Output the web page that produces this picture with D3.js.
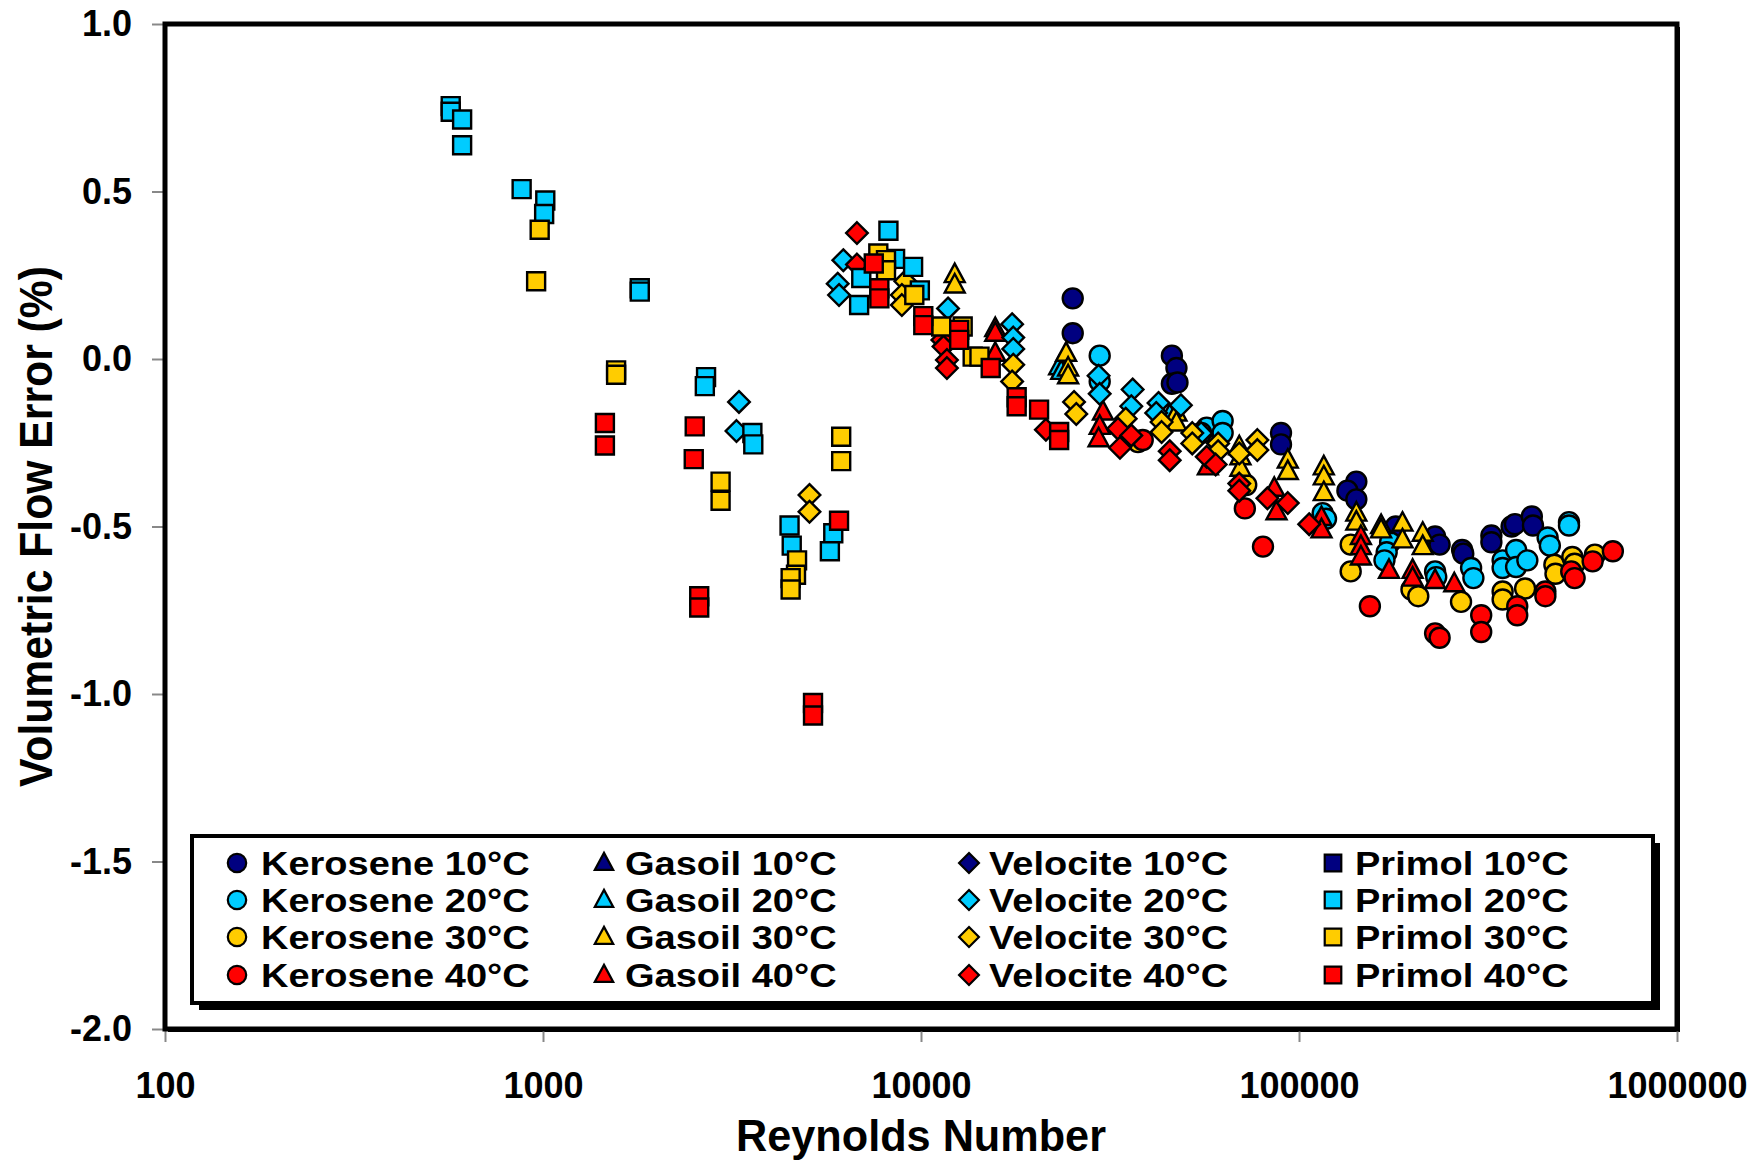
<!DOCTYPE html>
<html><head><meta charset="utf-8">
<script src="https://cdn.jsdelivr.net/npm/d3@7"></script>
<style>
body{margin:0;background:#fff}
svg{display:block}
text{font-family:"Liberation Sans",Arial,sans-serif;font-weight:bold;fill:#000}
</style>
</head><body>
<svg id="chart" width="1764" height="1161"></svg>
<script>
// ---------------- data ----------------
const xTicks = [100, 1000, 10000, 100000, 1000000];
const yTicks = [-2.0, -1.5, -1.0, -0.5, 0.0, 0.5, 1.0];
const fluids = ["Kerosene", "Gasoil", "Velocite", "Primol"];
const temps = ["10°C", "20°C", "30°C", "40°C"];
const tempColors = ["#000080", "#00CCFF", "#FFCC00", "#FF0000"];
const fluidShapes = ["circle", "triangle", "diamond", "square"];

// [Reynolds number, volumetric flow error %]
const kerosene10 = [[25200,0.181],[25200,0.077],[46100,0.010],[47400,-0.027],[46100,-0.074],[47700,-0.070],[89600,-0.221],[89600,-0.255],[141800,-0.366],[134300,-0.393],[141800,-0.419],[180300,-0.500],[229100,-0.530],[235500,-0.554],[270100,-0.570],[272000,-0.581],[322800,-0.527],[322800,-0.547],[365100,-0.500],[372700,-0.493],[413000,-0.470],[415900,-0.497]];
const kerosene20 = [[29700,0.010],[29700,-0.067],[57000,-0.205],[62800,-0.185],[62800,-0.221],[55100,-0.221],[115500,-0.460],[117900,-0.477],[174200,-0.547],[170600,-0.577],[168300,-0.601],[229100,-0.634],[230700,-0.651],[285300,-0.624],[289300,-0.654],[345700,-0.601],[345700,-0.624],[375300,-0.570],[375300,-0.621],[401900,-0.601],[454700,-0.533],[460900,-0.557],[517900,-0.487],[517900,-0.497]];
const kerosene30 = [[37500,-0.248],[72500,-0.376],[137000,-0.554],[137000,-0.634],[198400,-0.688],[206800,-0.708],[268300,-0.725],[345700,-0.694],[345700,-0.718],[396400,-0.685],[473800,-0.614],[477000,-0.641],[528600,-0.591],[536000,-0.611],[606400,-0.584]];
const kerosene40 = [[38600,-0.242],[71900,-0.446],[80300,-0.560],[154000,-0.738],[229100,-0.819],[235500,-0.832],[303400,-0.765],[303400,-0.815],[377900,-0.738],[377900,-0.765],[448500,-0.694],[448500,-0.708],[525000,-0.634],[536000,-0.654],[598200,-0.604],[676600,-0.574]];

const gasoil10 = [];
const gasoil20 = [[23200,-0.023],[23500,-0.037],[45500,-0.168]];
const gasoil30 = [[12280,0.252],[12280,0.221],[24200,0.017],[24500,-0.027],[24500,-0.050],[47400,-0.161],[47400,-0.191],[69500,-0.262],[70000,-0.292],[70000,-0.326],[93400,-0.302],[93400,-0.336],[116300,-0.322],[116300,-0.352],[116300,-0.399],[141800,-0.460],[141800,-0.487],[164900,-0.497],[164900,-0.510],[187800,-0.490],[187800,-0.540],[212500,-0.520],[212500,-0.560]];
const gasoil40 = [[15720,0.091],[15720,0.077],[15720,0.017],[30300,-0.158],[29700,-0.201],[29500,-0.238],[57400,-0.322],[86000,-0.386],[87200,-0.456],[114700,-0.473],[114700,-0.510],[145800,-0.530],[145800,-0.560],[145800,-0.591],[173000,-0.631],[199800,-0.631],[199800,-0.654],[229100,-0.661],[257500,-0.671]];

const velocite10 = [];
const velocite20 = [[3300,-0.128],[3250,-0.215],[6230,0.295],[6020,0.225],[6070,0.191],[11790,0.151],[17420,0.104],[17540,0.064],[17540,0.030],[29500,-0.050],[29700,-0.104],[36300,-0.091],[36000,-0.141],[42500,-0.131],[41900,-0.161],[48700,-0.138],[55100,-0.221]];
const velocite30 = [[5070,-0.406],[5070,-0.456],[9090,0.232],[8900,0.191],[8900,0.161],[17540,-0.017],[17420,-0.067],[25400,-0.128],[25750,-0.164],[34800,-0.178],[43300,-0.188],[43300,-0.218],[52200,-0.221],[52200,-0.252],[61100,-0.252],[61100,-0.275],[69500,-0.282],[77600,-0.242],[77600,-0.272]];
const velocite40 = [[6770,0.376],[6770,0.282],[11390,0.057],[11470,0.037],[11710,-0.003],[11710,-0.027],[21400,-0.211],[33200,-0.208],[33600,-0.265],[36000,-0.228],[45500,-0.275],[45500,-0.302],[57000,-0.292],[60200,-0.315],[69500,-0.372],[69500,-0.393],[82500,-0.416],[93400,-0.430],[106400,-0.493]];

const primol10 = [];
const primol20 = [[570,0.755],[570,0.738],[611,0.715],[611,0.638],[878,0.507],[1014,0.473],[1007,0.433],[1803,0.211],[1803,0.201],[2700,-0.054],[2680,-0.081],[3580,-0.221],[3600,-0.255],[4490,-0.497],[4550,-0.557],[5860,-0.520],[5740,-0.574],[8200,0.383],[8540,0.299],[9530,0.275],[6950,0.242],[6860,0.161],[9930,0.205]];
const primol30 = [[980,0.386],[959,0.232],[1561,-0.034],[1561,-0.047],[2950,-0.366],[2950,-0.423],[6150,-0.232],[6150,-0.305],[4700,-0.601],[4670,-0.644],[4520,-0.654],[4520,-0.688],[7710,0.315],[8080,0.295],[8080,0.265],[9600,0.191],[11310,0.097],[12890,0.097],[13700,0.007],[14280,0.007]];
const primol40 = [[1458,-0.191],[1458,-0.258],[2520,-0.201],[2505,-0.299],[2590,-0.708],[2590,-0.742],[6070,-0.483],[5180,-1.027],[5180,-1.064],[7500,0.285],[7760,0.211],[7760,0.181],[10140,0.128],[10140,0.101],[12620,0.087],[12620,0.057],[15290,-0.027],[17910,-0.114],[17910,-0.141],[20530,-0.151],[23200,-0.218],[23200,-0.242]];

const seriesByFluid = [
  [kerosene10, kerosene20, kerosene30, kerosene40],
  [gasoil10, gasoil20, gasoil30, gasoil40],
  [velocite10, velocite20, velocite30, velocite40],
  [primol10, primol20, primol30, primol40]
];

// ---------------- layout ----------------
const plot = {left: 165, right: 1677, top: 24, bottom: 1029};
const svg = d3.select("#chart");
const x = d3.scaleLog().domain([100, 1000000]).range([plot.left, plot.right]);
const y = d3.scaleLinear().domain([-2, 1]).range([plot.bottom, plot.top]);

function markerPath(shape) {
  switch (shape) {
    case "triangle": return "M0,-11L10,7.5L-10,7.5Z";
    case "diamond": return "M0,-10.8L10.8,0L0,10.8L-10.8,0Z";
    case "square": return "M-9,-9H9V9H-9Z";
    default: return d3.symbol(d3.symbolCircle, Math.PI * 10 * 10)();
  }
}

// plot frame with shadow
svg.append("rect").attr("x", plot.left + 3).attr("y", plot.top + 3)
  .attr("width", plot.right - plot.left).attr("height", plot.bottom - plot.top)
  .attr("fill", "#000");
svg.append("rect").attr("x", plot.left).attr("y", plot.top)
  .attr("width", plot.right - plot.left).attr("height", plot.bottom - plot.top)
  .attr("fill", "#fff");

// axes
const yAxis = svg.append("g").attr("transform", `translate(${plot.left},0)`)
  .call(d3.axisLeft(y).tickValues(yTicks).tickFormat(d => d.toFixed(1)).tickSize(13).tickPadding(20));
const xAxis = svg.append("g").attr("transform", `translate(0,${plot.bottom})`)
  .call(d3.axisBottom(x).tickValues(xTicks).tickFormat(d => String(d)).tickSize(13).tickPadding(30));
[yAxis, xAxis].forEach(g => {
  g.select(".domain").remove();
  g.selectAll(".tick line").attr("stroke", "#888").attr("stroke-width", 2);
  g.selectAll(".tick text").style("font-size", "36px").style("font-family", "'Liberation Sans',Arial,sans-serif").style("font-weight", "bold").attr("fill", "#000");
});

// markers
const markLayer = svg.append("g");
fluids.forEach((f, fi) => {
  temps.forEach((t, ti) => {
    const data = seriesByFluid[fi][ti];
    markLayer.append("g").selectAll("path").data(data).enter().append("path")
      .attr("d", markerPath(fluidShapes[fi]))
      .attr("transform", d => `translate(${x(d[0])},${y(d[1])})`)
      .attr("fill", tempColors[ti]).attr("stroke", "#000").attr("stroke-width", 2.4);
  });
});

// frame border
svg.append("rect").attr("x", plot.left).attr("y", plot.top)
  .attr("width", plot.right - plot.left).attr("height", plot.bottom - plot.top)
  .attr("fill", "none").attr("stroke", "#000").attr("stroke-width", 5);

// legend
const lg = {x: 192, y: 836, w: 1461, h: 167};
svg.append("rect").attr("x", lg.x + 7).attr("y", lg.y + 7).attr("width", lg.w).attr("height", lg.h).attr("fill", "#000");
svg.append("rect").attr("x", lg.x).attr("y", lg.y).attr("width", lg.w).attr("height", lg.h)
  .attr("fill", "#fff").attr("stroke", "#000").attr("stroke-width", 4);
const colMarkerX = [237, 604, 969, 1333];
const colTextX = [261, 625, 989, 1355];
const rowY = [863, 900, 937, 975];
fluids.forEach((f, fi) => {
  temps.forEach((t, ti) => {
    svg.append("path").attr("d", markerPath(fluidShapes[fi]))
      .attr("transform", `translate(${colMarkerX[fi]},${rowY[ti]}) scale(0.92)`)
      .attr("fill", tempColors[ti]).attr("stroke", "#000").attr("stroke-width", 2.4);
    const label = `${f} ${t}`;
    const tx = svg.append("text").attr("x", colTextX[fi]).attr("y", rowY[ti] + 12)
      .style("font-size", "34px").text(label);
    const natural = tx.node().getComputedTextLength();
    tx.attr("textLength", natural * 38 / 34).attr("lengthAdjust", "spacingAndGlyphs");
  });
});

// axis titles
const xt = svg.append("text").attr("x", (plot.left + plot.right) / 2).attr("y", 1151)
  .attr("text-anchor", "middle").style("font-size", "45px").text("Reynolds Number");
xt.attr("textLength", 370).attr("lengthAdjust", "spacingAndGlyphs");
const yt = svg.append("text").attr("transform", `translate(52,${(plot.top + plot.bottom) / 2}) rotate(-90)`)
  .attr("text-anchor", "middle").style("font-size", "47px").text("Volumetric Flow Error (%)");
yt.attr("textLength", 521).attr("lengthAdjust", "spacingAndGlyphs");
</script>
</body></html>
